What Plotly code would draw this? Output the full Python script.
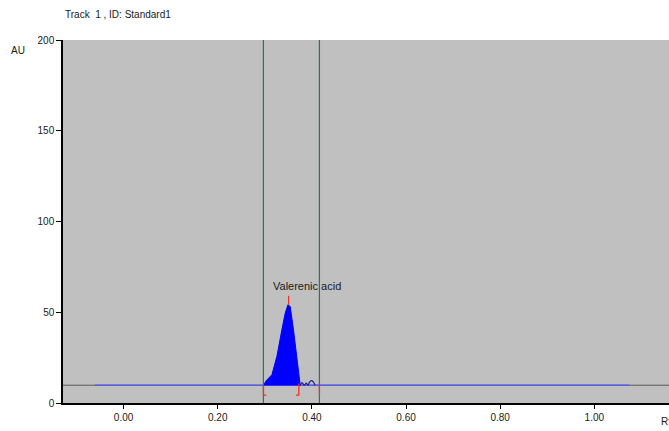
import plotly.graph_objects as go

# ---- data ----
baseline_au = 9.8
full_rf = [-0.1287, 1.1586]            # dark grey full-width baseline
track_rf = [-0.061, 1.074]              # blue baseline span

peak_rf = [0.2972, 0.3030, 0.3151, 0.3257, 0.3363, 0.3433, 0.3490,
           0.3539, 0.3609, 0.3682, 0.3737, 0.3752]
peak_au = [9.7, 12.3, 15.6, 25.7, 40.4, 49.5, 54.1,
           53.2, 40.4, 25.7, 14.6, 9.7]

wiggle_rf = [0.3752, 0.3790, 0.3840, 0.3880, 0.3920, 0.3950, 0.3990, 0.4030, 0.4060, 0.4070]
wiggle_au = [9.8, 11.2, 9.8, 10.9, 9.8, 11.5, 12.3, 11.6, 10.2, 9.8]

window_rf = [0.297, 0.416]
peak_top_rf = 0.3505
peak_top_au = [54.1, 59.1]
bracket_low_au = 4.3
bracket_w = 0.006

peak_name = "Valerenic acid"
yticks = [0, 50, 100, 150, 200]
xticks = [0.0, 0.2, 0.4, 0.6, 0.8, 1.0]

FONT = "Liberation Sans, Arial, sans-serif"
RED = "#f03030"
TXT = "#1a1a1a"

fig = go.Figure()

# full-width grey baseline
fig.add_trace(go.Scatter(x=full_rf, y=[baseline_au] * 2, mode="lines",
                         line=dict(color="#5a5a5a", width=1), hoverinfo="skip"))
# blue track baseline
fig.add_trace(go.Scatter(x=track_rf, y=[baseline_au] * 2, mode="lines",
                         line=dict(color="#5c5cec", width=1.5), hoverinfo="skip"))
# peak fill
fig.add_trace(go.Scatter(x=peak_rf, y=peak_au, mode="lines", fill="toself",
                         fillcolor="#0000ff", line=dict(color="#0000ff", width=1),
                         hoverinfo="skip"))
# small wiggles after peak
fig.add_trace(go.Scatter(x=wiggle_rf, y=wiggle_au, mode="lines", line_shape="spline",
                         line=dict(color="#1c1c90", width=1.2), hoverinfo="skip"))
# integration window lines
for r in window_rf:
    fig.add_trace(go.Scatter(x=[r, r], y=[0, 200], mode="lines",
                             line=dict(color="#3d6b5c", width=1.2), hoverinfo="skip"))
# red markers: left bracket, right bracket, window end, peak top
fig.add_trace(go.Scatter(
    x=[peak_rf[0] + bracket_w, peak_rf[0], peak_rf[0]],
    y=[bracket_low_au, bracket_low_au, baseline_au],
    mode="lines", line=dict(color=RED, width=1.3), hoverinfo="skip"))
fig.add_trace(go.Scatter(
    x=[peak_rf[-1] - 0.003 - bracket_w, peak_rf[-1] - 0.003, peak_rf[-1] - 0.003],
    y=[bracket_low_au, bracket_low_au, baseline_au + 1],
    mode="lines", line=dict(color=RED, width=1.3), hoverinfo="skip"))
fig.add_trace(go.Scatter(x=[window_rf[1], window_rf[1]], y=[bracket_low_au, baseline_au],
                         mode="lines", line=dict(color=RED, width=1.3), hoverinfo="skip"))
fig.add_trace(go.Scatter(x=[peak_top_rf, peak_top_rf], y=peak_top_au,
                         mode="lines", line=dict(color=RED, width=1.2), hoverinfo="skip"))

fig.update_layout(
    width=669, height=431,
    margin=dict(l=63, r=0, t=40, b=28),
    paper_bgcolor="white", plot_bgcolor="#c0c0c0",
    showlegend=False,
    font=dict(family=FONT, size=10, color=TXT),
    xaxis=dict(range=full_rf, tickvals=xticks, tickformat=".2f",
               showline=True, linecolor="black", linewidth=1.5,
               ticks="outside", ticklen=4, tickcolor="black",
               showgrid=False, zeroline=False, fixedrange=True),
    yaxis=dict(range=[0, 200], tickvals=yticks,
               showline=True, linecolor="black", linewidth=1.5,
               ticks="outside", ticklen=5, tickcolor="black",
               showgrid=False, zeroline=False, fixedrange=True),
    annotations=[
        dict(text="Track  1 , ID: Standard1", xref="paper", yref="paper",
             x=0.0, y=1.0, yshift=26, xanchor="left", yanchor="middle",
             showarrow=False, font=dict(size=10)),
        dict(text="AU", xref="paper", yref="paper", x=0, xshift=-45, y=1.0,
             yshift=-10, xanchor="center", yanchor="middle", showarrow=False,
             font=dict(size=10)),
        dict(text="Rf", xref="paper", yref="paper", x=1.0, xshift=-10, y=0,
             yshift=-18, xanchor="left", yanchor="middle", showarrow=False,
             font=dict(size=10)),
        dict(text=peak_name, x=peak_top_rf, y=peak_top_au[1] + 5.5,
             xref="x", yref="y", xanchor="center", yanchor="middle",
             xshift=18, showarrow=False, font=dict(size=11)),
    ],
)

fig.write_html("out.html",
               config={"displayModeBar": False},
               post_script="document.body.style.margin='0';"
                           "document.body.style.overflow='hidden';")
